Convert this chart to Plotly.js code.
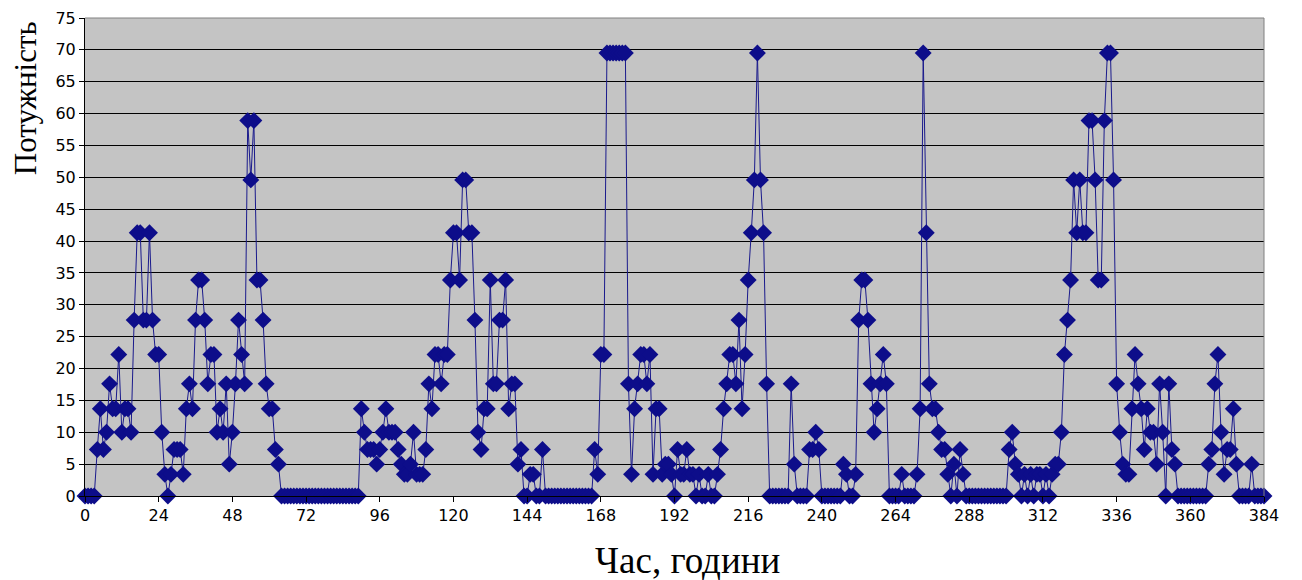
<!DOCTYPE html>
<html>
<head>
<meta charset="utf-8">
<script src="https://cdn.plot.ly/plotly-3.0.1.min.js"></script>
<style>html,body{margin:0;padding:0;background:#fff;}#chart{width:1302px;height:580px;}</style>
</head>
<body>
<div id="chart"></div>
<script>
// Hour index 0..384
const hours = [];
for (let h = 0; h <= 384; h++) hours.push(h);

// Power values, one per hour
const power = [
  0, 0, 0, 0, 7.3, 13.7, 7.3, 10, 17.6, 13.7,
  13.7, 22.2, 10, 13.7, 13.7, 10, 27.6, 41.3, 41.3, 27.6,
  27.6, 41.3, 27.6, 22.2, 22.2, 10, 3.4, 0, 3.4, 7.3,
  7.3, 7.3, 3.4, 13.7, 17.6, 13.7, 27.6, 33.9, 33.9, 27.6,
  17.6, 22.2, 22.2, 10, 13.7, 10, 17.6, 5, 10, 17.6,
  27.6, 22.2, 17.6, 58.9, 49.6, 58.9, 33.9, 33.9, 27.6, 17.6,
  13.7, 13.7, 7.3, 5, 0, 0, 0, 0, 0, 0,
  0, 0, 0, 0, 0, 0, 0, 0, 0, 0,
  0, 0, 0, 0, 0, 0, 0, 0, 0, 0,
  13.7, 10, 7.3, 7.3, 7.3, 5, 7.3, 10, 13.7, 10,
  10, 10, 7.3, 5, 3.4, 3.4, 5, 10, 3.4, 3.4,
  3.4, 7.3, 17.6, 13.7, 22.2, 22.2, 17.6, 22.2, 22.2, 33.9,
  41.3, 41.3, 33.9, 49.6, 49.6, 41.3, 41.3, 27.6, 10, 7.3,
  13.7, 13.7, 33.9, 17.6, 17.6, 27.6, 27.6, 33.9, 13.7, 17.6,
  17.6, 5, 7.3, 0, 0, 3.4, 3.4, 0, 0, 7.3,
  0, 0, 0, 0, 0, 0, 0, 0, 0, 0,
  0, 0, 0, 0, 0, 0, 7.3, 3.4, 22.2, 22.2,
  69.5, 69.5, 69.5, 69.5, 69.5, 69.5, 69.5, 17.6, 3.4, 13.7,
  17.6, 22.2, 22.2, 17.6, 22.2, 3.4, 13.7, 13.7, 3.4, 5,
  5, 3.4, 0, 7.3, 3.4, 3.4, 7.3, 3.4, 3.4, 0,
  3.4, 0, 0, 3.4, 0, 0, 3.4, 7.3, 13.7, 17.6,
  22.2, 22.2, 17.6, 27.6, 13.7, 22.2, 33.9, 41.3, 49.6, 69.5,
  49.6, 41.3, 17.6, 0, 0, 0, 0, 0, 0, 0,
  17.6, 5, 0, 0, 0, 0, 7.3, 7.3, 10, 7.3,
  0, 0, 0, 0, 0, 0, 0, 5, 3.4, 0,
  0, 3.4, 27.6, 33.9, 33.9, 27.6, 17.6, 10, 13.7, 17.6,
  22.2, 17.6, 0, 0, 0, 0, 3.4, 0, 0, 0,
  0, 3.4, 13.7, 69.5, 41.3, 17.6, 13.7, 13.7, 10, 7.3,
  7.3, 3.4, 0, 5, 0, 7.3, 3.4, 0, 0, 0,
  0, 0, 0, 0, 0, 0, 0, 0, 0, 0,
  0, 7.3, 10, 5, 3.4, 0, 3.4, 0, 3.4, 0,
  3.4, 3.4, 0, 3.4, 0, 3.4, 5, 5, 10, 22.2,
  27.6, 33.9, 49.6, 41.3, 49.6, 41.3, 41.3, 58.9, 58.9, 49.6,
  33.9, 33.9, 58.9, 69.5, 69.5, 49.6, 17.6, 10, 5, 3.4,
  3.4, 13.7, 22.2, 17.6, 13.7, 7.3, 13.7, 10, 10, 5,
  17.6, 10, 0, 17.6, 7.3, 5, 0, 0, 0, 0,
  0, 0, 0, 0, 0, 0, 5, 7.3, 17.6, 22.2,
  10, 3.4, 7.3, 7.3, 13.7, 5, 0, 0, 0, 0,
  5, 0, 0, 0, 0
];

const xTicks = [0, 24, 48, 72, 96, 120, 144, 168, 192, 216, 240, 264, 288, 312, 336, 360, 384];
const yTicks = [0, 5, 10, 15, 20, 25, 30, 35, 40, 45, 50, 55, 60, 65, 70, 75];
const xTitle = 'Час, години';
const yTitle = 'Потужність';

const trace = {
  x: hours,
  y: power,
  type: 'scatter',
  mode: 'lines+markers',
  cliponaxis: false,
  line: {color: '#1a1a8c', width: 1},
  marker: {symbol: 'diamond', size: 13, color: '#0d0d8a', line: {width: 0}},
  hoverinfo: 'x+y'
};

const tickFont = {family: 'DejaVu Sans, Verdana, sans-serif', size: 16, color: '#000'};

const layout = {
  width: 1302,
  height: 580,
  margin: {l: 85, r: 38, t: 18, b: 84},
  paper_bgcolor: '#ffffff',
  plot_bgcolor: '#c4c4c4',
  showlegend: false,
  xaxis: {
    range: [0, 384],
    tickvals: xTicks,
    ticktext: xTicks.map(String),
    ticks: 'outside',
    ticklen: 5,
    tickcolor: '#000',
    showgrid: false,
    zeroline: false,
    showline: true,
    linecolor: '#000',
    linewidth: 1,
    tickfont: tickFont,
    fixedrange: true
  },
  yaxis: {
    range: [0, 75],
    tickvals: yTicks,
    ticktext: yTicks.map(String),
    ticks: 'outside',
    ticklen: 5,
    tickcolor: '#000',
    showgrid: true,
    gridcolor: '#000',
    gridwidth: 1,
    zeroline: false,
    showline: true,
    linecolor: '#000',
    linewidth: 1,
    tickfont: tickFont,
    fixedrange: true
  },
  shapes: [
    {type: 'line', xref: 'paper', yref: 'paper', x0: 1, x1: 1, y0: 0, y1: 1, line: {color: '#808080', width: 1}},
    {type: 'line', xref: 'paper', yref: 'paper', x0: 0, x1: 1, y0: 1, y1: 1, line: {color: '#808080', width: 1}}
  ],
  annotations: [
    {
      text: xTitle, xref: 'paper', yref: 'paper', x: 0.511, y: -0.134,
      xanchor: 'center', yanchor: 'middle', showarrow: false,
      font: {family: 'Liberation Serif, Times New Roman, serif', size: 37, color: '#000'}
    },
    {
      text: yTitle, xref: 'paper', yref: 'paper', x: -0.051, y: 0.832,
      xanchor: 'center', yanchor: 'middle', showarrow: false, textangle: -90,
      font: {family: 'Liberation Serif, Times New Roman, serif', size: 31, color: '#000'}
    }
  ]
};

Plotly.newPlot('chart', [trace], layout, {displayModeBar: false, staticPlot: true});
</script>
</body>
</html>
